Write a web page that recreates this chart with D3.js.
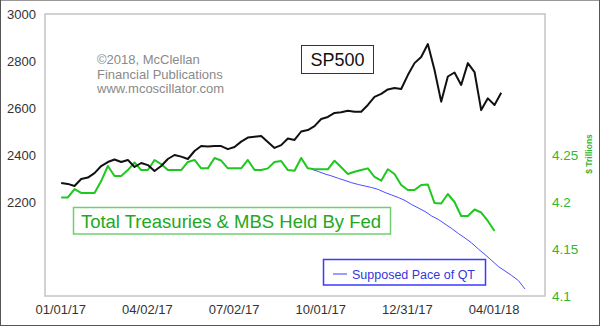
<!DOCTYPE html>
<html>
<head>
<meta charset="utf-8">
<script src="https://cdn.jsdelivr.net/npm/d3@7"></script>
<style>
  html, body { margin: 0; padding: 0; background: #fff; }
  svg { display: block; font-family: "Liberation Sans", Arial, sans-serif; }
</style>
</head>
<body>
<div id="chart"></div>
<script>
// ---- Data (weekly) ----
const startDate = "2017-01-02";          // first weekly observation (SP500 & Fed holdings)
const sp500 = [2281, 2277, 2268, 2298, 2304, 2323, 2353, 2370, 2381, 2370,
  2379, 2349, 2366, 2357, 2332, 2353, 2383, 2400, 2393, 2383,
  2417, 2438, 2436, 2438, 2438, 2425, 2434, 2457, 2474, 2478,
  2481, 2455, 2430, 2442, 2470, 2464, 2500, 2506, 2523, 2553,
  2562, 2579, 2582, 2588, 2584, 2584, 2613, 2647, 2660, 2679,
  2685, 2681, 2740, 2791, 2817, 2872, 2762, 2627, 2734, 2751,
  2698, 2791, 2753, 2591, 2641, 2613, 2665];
const fedHoldings = [4.2048, 4.2048, 4.2138, 4.2096, 4.2096, 4.2096, 4.2223, 4.2383, 4.2277, 4.2277,
  4.2340, 4.2420, 4.2340, 4.2340, 4.2447, 4.2404, 4.2340, 4.2340, 4.2340, 4.2426,
  4.2447, 4.2358, 4.2358, 4.2468, 4.2441, 4.2358, 4.2358, 4.2358, 4.2447, 4.2340,
  4.2340, 4.2358, 4.2426, 4.2436, 4.2340, 4.2333, 4.2468, 4.2358, 4.2348, 4.2348,
  4.2348, 4.2439, 4.2369, 4.2298, 4.2322, 4.2340, 4.2358, 4.2266, 4.2227, 4.2348,
  4.2298, 4.2181, 4.2128, 4.2128, 4.2181, 4.2186, 4.1989, 4.1984, 4.2085, 4.2000,
  4.1851, 4.1851, 4.1920, 4.1888, 4.1798, 4.1691];
const qtStartDate = "2017-09-22";        // first weekly point of the QT projection
const qtPace = [4.2348, 4.2324, 4.2298, 4.2277, 4.2252, 4.2229, 4.2205, 4.2186, 4.2170, 4.2154,
  4.2133, 4.2101, 4.2074, 4.2048, 4.2016, 4.1973, 4.1936, 4.1899, 4.1851, 4.1814,
  4.1766, 4.1718, 4.1665, 4.1617, 4.1564, 4.1500, 4.1441, 4.1378, 4.1314, 4.1266,
  4.1218, 4.1165, 4.1074];
const xTickDates = ["2017-01-01", "2017-04-02", "2017-07-02", "2017-10-01", "2017-12-31", "2018-04-01"];
const leftTicks = [2200, 2400, 2600, 2800, 3000];
const rightTicks = [4.1, 4.15, 4.2, 4.25];

// ---- Setup ----
const W = 600, H = 326;
const plot = { left: 45, right: 545, top: 14, bottom: 296 };
const parse = d3.utcParse("%Y-%m-%d");
const fmtX = d3.utcFormat("%m/%d/%y");
const weekly = (start, n) => d3.range(n).map(i => d3.utcDay.offset(parse(start), 7 * i));

const spDates = weekly(startDate, sp500.length);
const fedDates = weekly(startDate, fedHoldings.length);
const qtDates = weekly(qtStartDate, qtPace.length);

const x = d3.scaleUtc()
  .domain([parse("2016-12-16"), parse("2018-05-25")])
  .range([plot.left, plot.right]);
const yL = d3.scaleLinear().domain([1800, 3000]).range([plot.bottom, plot.top]);
const yR = d3.scaleLinear().domain([4.1, 4.4]).range([plot.bottom, plot.top]);

const svg = d3.select("#chart").append("svg").attr("width", W).attr("height", H);

// outer border
svg.append("rect").attr("x", 0.5).attr("y", 0.5).attr("width", W - 1).attr("height", H - 1)
  .attr("fill", "#fff").attr("stroke", "#555").attr("stroke-width", 1);
svg.append("line").attr("x1", 1).attr("x2", W - 1).attr("y1", 0.5).attr("y2", 0.5)
  .attr("stroke", "#999").attr("stroke-width", 1);

// plot frame
svg.append("rect")
  .attr("x", plot.left).attr("y", plot.top)
  .attr("width", plot.right - plot.left).attr("height", plot.bottom - plot.top)
  .attr("fill", "none").attr("stroke", "#c4c4c4").attr("stroke-width", 1.5);

// axes (labels only)
const axL = d3.axisLeft(yL).tickValues(leftTicks).tickSize(0).tickPadding(9).tickFormat(d3.format("d"));
const gL = svg.append("g").attr("transform", `translate(${plot.left},0)`).call(axL);
gL.select(".domain").remove();
gL.selectAll("text").attr("fill", "#333").style("font-size", "13px");

const axR = d3.axisRight(yR).tickValues(rightTicks).tickSize(0).tickPadding(7)
  .tickFormat(d => d3.format("")(+d.toFixed(2)));
const gR = svg.append("g").attr("transform", `translate(${plot.right},0)`).call(axR);
gR.select(".domain").remove();
gR.selectAll("text").attr("fill", "#33b533").style("font-size", "13.5px");

const axB = d3.axisBottom(x).tickValues(xTickDates.map(parse)).tickSize(0).tickPadding(9).tickFormat(fmtX);
const gB = svg.append("g").attr("transform", `translate(0,${plot.bottom})`).call(axB);
gB.select(".domain").remove();
gB.selectAll("text").attr("fill", "#333").style("font-size", "13px");

// right axis title
svg.append("text")
  .attr("transform", `translate(592,154) rotate(-90)`)
  .attr("text-anchor", "middle")
  .attr("fill", "#33b533").style("font-size", "8.5px").style("font-weight", "bold")
  .text("$ Trillions");

// copyright
const copy = svg.append("text").attr("fill", "#8a8a8a").style("font-size", "13px");
["©2018, McClellan", "Financial Publications", "www.mcoscillator.com"].forEach((t, i) => {
  copy.append("tspan").attr("x", 97).attr("y", 64 + i * 14.6).text(t);
});

// lines
const lineQT = d3.line().x((d, i) => x(qtDates[i])).y(d => yR(d));
svg.append("path").datum(qtPace).attr("d", lineQT)
  .attr("fill", "none").attr("stroke", "#4b4bff").attr("stroke-width", 1);

const lineFed = d3.line().x((d, i) => x(fedDates[i])).y(d => yR(d));
svg.append("path").datum(fedHoldings).attr("d", lineFed)
  .attr("fill", "none").attr("stroke", "#1ec81e").attr("stroke-width", 2).attr("stroke-linejoin", "round");

const lineSP = d3.line().x((d, i) => x(spDates[i])).y(d => yL(d));
svg.append("path").datum(sp500).attr("d", lineSP)
  .attr("fill", "none").attr("stroke", "#111").attr("stroke-width", 2).attr("stroke-linejoin", "round");

// SP500 label box
svg.append("rect").attr("x", 301.5).attr("y", 45.5).attr("width", 72).attr("height", 28)
  .attr("fill", "#fff").attr("stroke", "#333").attr("stroke-width", 1);
svg.append("text").attr("x", 337.5).attr("y", 66).attr("text-anchor", "middle")
  .attr("fill", "#111").style("font-size", "18px").text("SP500");

// Fed holdings label box
svg.append("rect").attr("x", 73.5).attr("y", 207.5).attr("width", 317).attr("height", 26.5)
  .attr("fill", "#fff").attr("stroke", "#6fd06f").attr("stroke-width", 1.5);
svg.append("text").attr("x", 231).attr("y", 227.5).attr("text-anchor", "middle")
  .attr("fill", "#22a822").style("font-size", "18.5px").text("Total Treasuries & MBS Held By Fed");

// QT legend box
svg.append("rect").attr("x", 323.5).attr("y", 259.5).attr("width", 162).attr("height", 25.5)
  .attr("fill", "#fff").attr("stroke", "#3a3aff").attr("stroke-width", 1.5);
svg.append("line").attr("x1", 333).attr("x2", 347).attr("y1", 274).attr("y2", 274)
  .attr("stroke", "#3a3aff").attr("stroke-width", 1);
svg.append("text").attr("x", 352).attr("y", 278.5)
  .attr("fill", "#3535e0").style("font-size", "12.5px").text("Supposed Pace of QT");
</script>
</body>
</html>
